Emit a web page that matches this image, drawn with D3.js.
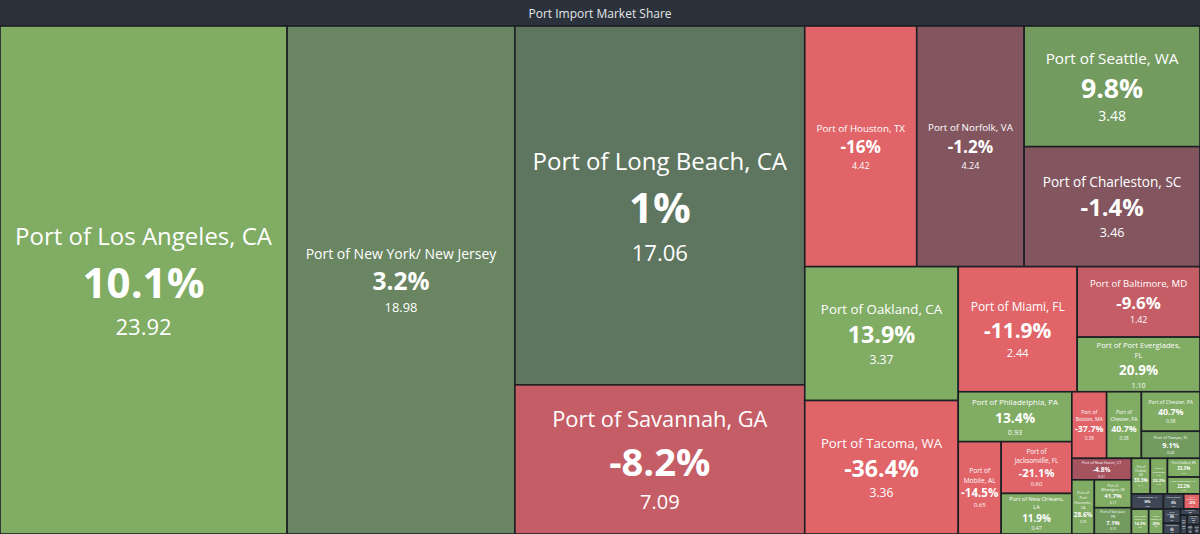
<!DOCTYPE html>
<html>
<head>
<meta charset="utf-8">
<script src="https://cdn.jsdelivr.net/npm/d3@7"></script>
<style>
  body { margin: 0; background: #1c1f24; }
  svg { display: block; }
</style>
</head>
<body>
<script>
// Port import treemap: port name, share of imports (%), change vs last year (%)

var ports = [
  "Port of Los Angeles, CA", "Port of New York/ New Jersey", "Port of Long Beach, CA",
  "Port of Savannah, GA", "Port of Houston, TX", "Port of Norfolk, VA", "Port of Seattle, WA",
  "Port of Charleston, SC", "Port of Oakland, CA", "Port of Tacoma, WA", "Port of Miami, FL",
  "Port of Baltimore, MD", "Port of Port Everglades, FL", "Port of Philadelphia, PA",
  "Port of Mobile, AL", "Port of Jacksonville, FL", "Port of New Orleans, LA",
  "Port of Boston, MA", "Port of Chester, PA", "Port of Chester, PA", "Port of Tampa, FL",
  "Port of New Haven, CT", "Port of Port Hueneme, CA", "Port of Wilmington, DE",
  "Port of San Juan, PR", "Port of Portland, OR", "Port of Wilmington, NC",
  "Port of Gulfport, MS", "Port of Brunswick, GA", "Port of Everett, WA",
  "Port of Lake Charles, LA", "Port of Freeport, TX", "Port of Honolulu, HI",
  "Port of Beaumont, TX", "Port of Anchorage, AK", "Port of Richmond, VA",
  "Port of Camden, NJ", "Port of Albany, NY", "Port of Corpus Christi, TX",
  "Port of Panama City, FL", "Port of Erie, PA"
];

var shares = [
  23.92, 18.98, 17.06, 7.09, 4.42, 4.24, 3.48, 3.46, 3.37, 3.36, 2.44, 1.42, 1.10, 0.93,
  0.65, 0.60, 0.47, 0.38, 0.38, 0.38, 0.26,
  0.21, 0.20, 0.17, 0.16, 0.11, 0.10, 0.10, 0.09, 0.08, 0.07, 0.06, 0.05, 0.04, 0.04,
  0.03, 0.02, 0.02, 0.02, 0.01, 0.01
];

var changes = [
  10.1, 3.2, 1, -8.2, -16, -1.2, 9.8, -1.4, 13.9, -36.4, -11.9, -9.6, 20.9, 13.4,
  -14.5, -21.1, 11.9, -37.7, 40.7, 40.7, 9.1,
  -4.8, 28.6, 41.7, 7.1, 33.3, 22.2, 33.3, 22.2, 0, 14.3, 20, 0, -25, 0,
  0, 0, 0, 0, 0, 0
];

var title = "Port Import Market Share";

var svgWidth = 1200;
var svgHeight = 534;
var titleHeight = 26;
var fontFamily = "'Segoe UI', 'Open Sans', sans-serif";

var svg = d3.select("body")
  .append("svg")
  .attr("width", svgWidth)
  .attr("height", svgHeight);

// title bar
svg.append("rect")
  .attr("width", svgWidth)
  .attr("height", titleHeight - 1)
  .attr("fill", "#2b323b");

svg.append("text")
  .attr("x", svgWidth / 2)
  .attr("y", titleHeight / 2)
  .attr("text-anchor", "middle")
  .attr("dominant-baseline", "central")
  .attr("font-family", fontFamily)
  .attr("font-size", 12)
  .attr("fill", "#e4e6e8")
  .text(title);

// colour by change: deeper red / green as the change gets bigger
var color = d3.scaleThreshold()
  .domain([-10, -5, -2, 0, 0.5, 2, 5, 10])
  .range(["#e06468", "#c55d66", "#a5535f", "#83565f", "#3d4654",
          "#5e7660", "#6a8562", "#739b5f", "#80ac64"]);

// split the sorted list where the running total passes half,
// cut along the longer side, then do the same on each part
function halfSplit(parent, x0, y0, x1, y1) {
  var nodes = parent.children;
  function part(i, j, value, x0, y0, x1, y1) {
    if (j - i === 1) {
      var n = nodes[i];
      n.x0 = x0; n.y0 = y0; n.x1 = x1; n.y1 = y1;
      return;
    }
    var k = i + 1, sum = nodes[i].value;
    while (k < j - 1 && sum + nodes[k].value <= value / 2) sum += nodes[k++].value;
    if (x1 - x0 > y1 - y0) {
      var xk = x0 + (x1 - x0) * sum / value;
      part(i, k, sum, x0, y0, xk, y1);
      part(k, j, value - sum, xk, y0, x1, y1);
    } else {
      var yk = y0 + (y1 - y0) * sum / value;
      part(i, k, sum, x0, y0, x1, yk);
      part(k, j, value - sum, x0, yk, x1, y1);
    }
  }
  part(0, nodes.length, parent.value, x0, y0, x1, y1);
}

var data = ports.map(function(p, i) {
  return { name: p, share: shares[i], change: changes[i] };
});

var root = d3.hierarchy({ children: data })
  .sum(function(d) { return d.share; })
  .sort(function(a, b) { return b.value - a.value; });

d3.treemap()
  .size([svgWidth, svgHeight - titleHeight])
  .tile(halfSplit)(root);

var chartGroup = svg.append("g")
  .attr("transform", "translate(0, " + titleHeight + ")");

var cells = chartGroup.selectAll("g")
  .data(root.leaves())
  .enter()
  .append("g");

cells.append("rect")
  .attr("x", function(d) { return d.x0; })
  .attr("y", function(d) { return d.y0; })
  .attr("width", function(d) { return d.x1 - d.x0; })
  .attr("height", function(d) { return d.y1 - d.y0; })
  .attr("fill", function(d) { return color(d.data.change); })
  .attr("stroke", "#1c1f23")
  .attr("stroke-width", 1.6);

// text measuring for fitting the labels
var ctx = document.createElement("canvas").getContext("2d");
function textWidth(s, size, weight) {
  ctx.font = (weight || "normal") + " " + size + "px " + fontFamily;
  return ctx.measureText(s).width;
}

function wrapWords(str, size, maxW) {
  var words = str.split(" "), lines = [], line = words[0];
  for (var i = 1; i < words.length; i++) {
    if (textWidth(line + " " + words[i], size) <= maxW) line += " " + words[i];
    else { lines.push(line); line = words[i]; }
  }
  lines.push(line);
  return lines;
}

var LH = 1.4;       // line height, in font sizes
var PCT = 1.75;     // change label size vs name size
var VAL = 0.92;     // share label size vs name size

function fitLabel(name, w, h) {
  var frac = Math.max(0.79, Math.min(0.9, 0.79 + (w - 180) / 1000));
  var maxW = w * frac;
  var f = Math.min(24, 0.105 * Math.sqrt(w * h));
  var lines = [name];
  var wd = textWidth(name, f);
  if (wd > maxW) {
    if (f >= 9.5) {
      f = f * maxW / wd;
    } else {
      lines = wrapWords(name, f, maxW);
      var widest = d3.max(lines, function(l) { return textWidth(l, f); });
      if (widest > maxW) f = f * maxW / widest;
    }
  }
  var block = LH * f * (lines.length + PCT + VAL);
  if (block > 0.92 * h) f = f * 0.92 * h / block;
  return { lines: lines, f: f };
}

var fmtValue = d3.format(".2f");

cells.each(function(d) {
  var w = d.x1 - d.x0, h = d.y1 - d.y0;
  var lab = fitLabel(d.data.name, w, h);
  var f = lab.f, pf = PCT * f, vf = VAL * f;
  var rows = lab.lines.map(function(l) {
    return { text: l, size: f, weight: "normal" };
  });
  rows.push({ text: d.data.change + "%", size: pf, weight: "bold" });
  rows.push({ text: fmtValue(d.data.share), size: vf, weight: "normal" });

  var total = d3.sum(rows, function(r) { return LH * r.size; });
  var cx = (d.x0 + d.x1) / 2;
  var y = (d.y0 + d.y1) / 2 - total / 2;
  var g = d3.select(this);
  rows.forEach(function(r) {
    g.append("text")
      .attr("x", cx)
      .attr("y", y + LH * r.size / 2)
      .attr("text-anchor", "middle")
      .attr("dominant-baseline", "central")
      .attr("font-family", fontFamily)
      .attr("font-size", r.size)
      .attr("font-weight", r.weight)
      .attr("fill", "#ffffff")
      .text(r.text);
    y += LH * r.size;
  });
});
</script>
</body>
</html>
